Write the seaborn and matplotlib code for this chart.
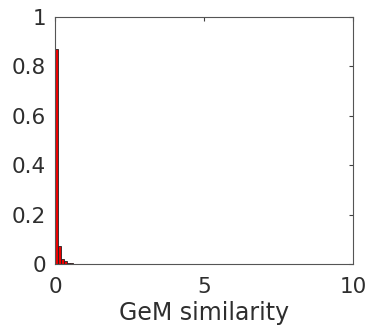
import numpy as np
import matplotlib
matplotlib.use('Agg')
import matplotlib.pyplot as plt
import seaborn as sns

# histogram of GeM similarity (bin width 0.1), normalised heights
bin_edges = [0.0, 0.1, 0.2, 0.3, 0.4, 0.5, 0.6, 0.7]
bin_heights = [0.87, 0.075, 0.022, 0.012, 0.006, 0.004, 0.002]
x_ticks = [0, 5, 10]
y_ticks = [0, 0.2, 0.4, 0.6, 0.8, 1]

centers = [(a + b) / 2 for a, b in zip(bin_edges[:-1], bin_edges[1:])]

sns.set_style('white')
plt.rcParams['font.family'] = ['DejaVu Sans']

fig = plt.figure(figsize=(3.7, 3.28), dpi=100)
ax = fig.add_axes([0.1486, 0.195, 0.805, 0.753])

sns.histplot(x=centers, weights=bin_heights, bins=bin_edges, ax=ax,
             color='#ee0000', alpha=1, edgecolor='#222222', linewidth=0.6)

ax.set_xlim(0, 10)
ax.set_ylim(0, 1)
ax.set_xticks(x_ticks)
ax.set_yticks(y_ticks)
ax.set_yticklabels(['0', '0.2', '0.4', '0.6', '0.8', '1'])
ax.set_xlabel('GeM similarity', fontsize=17, color='#2e2e2e', labelpad=3)
ax.set_ylabel('')
ax.tick_params(direction='in', length=3, width=0.8, colors='#404040',
               labelsize=15.5, labelcolor='#2e2e2e', top=True, right=True)
ax.tick_params(axis='x', pad=9)
ax.tick_params(axis='y', pad=6.5)
for s in ax.spines.values():
    s.set_color('#555555')
    s.set_linewidth(0.8)

fig.savefig('out.png', dpi=100)
